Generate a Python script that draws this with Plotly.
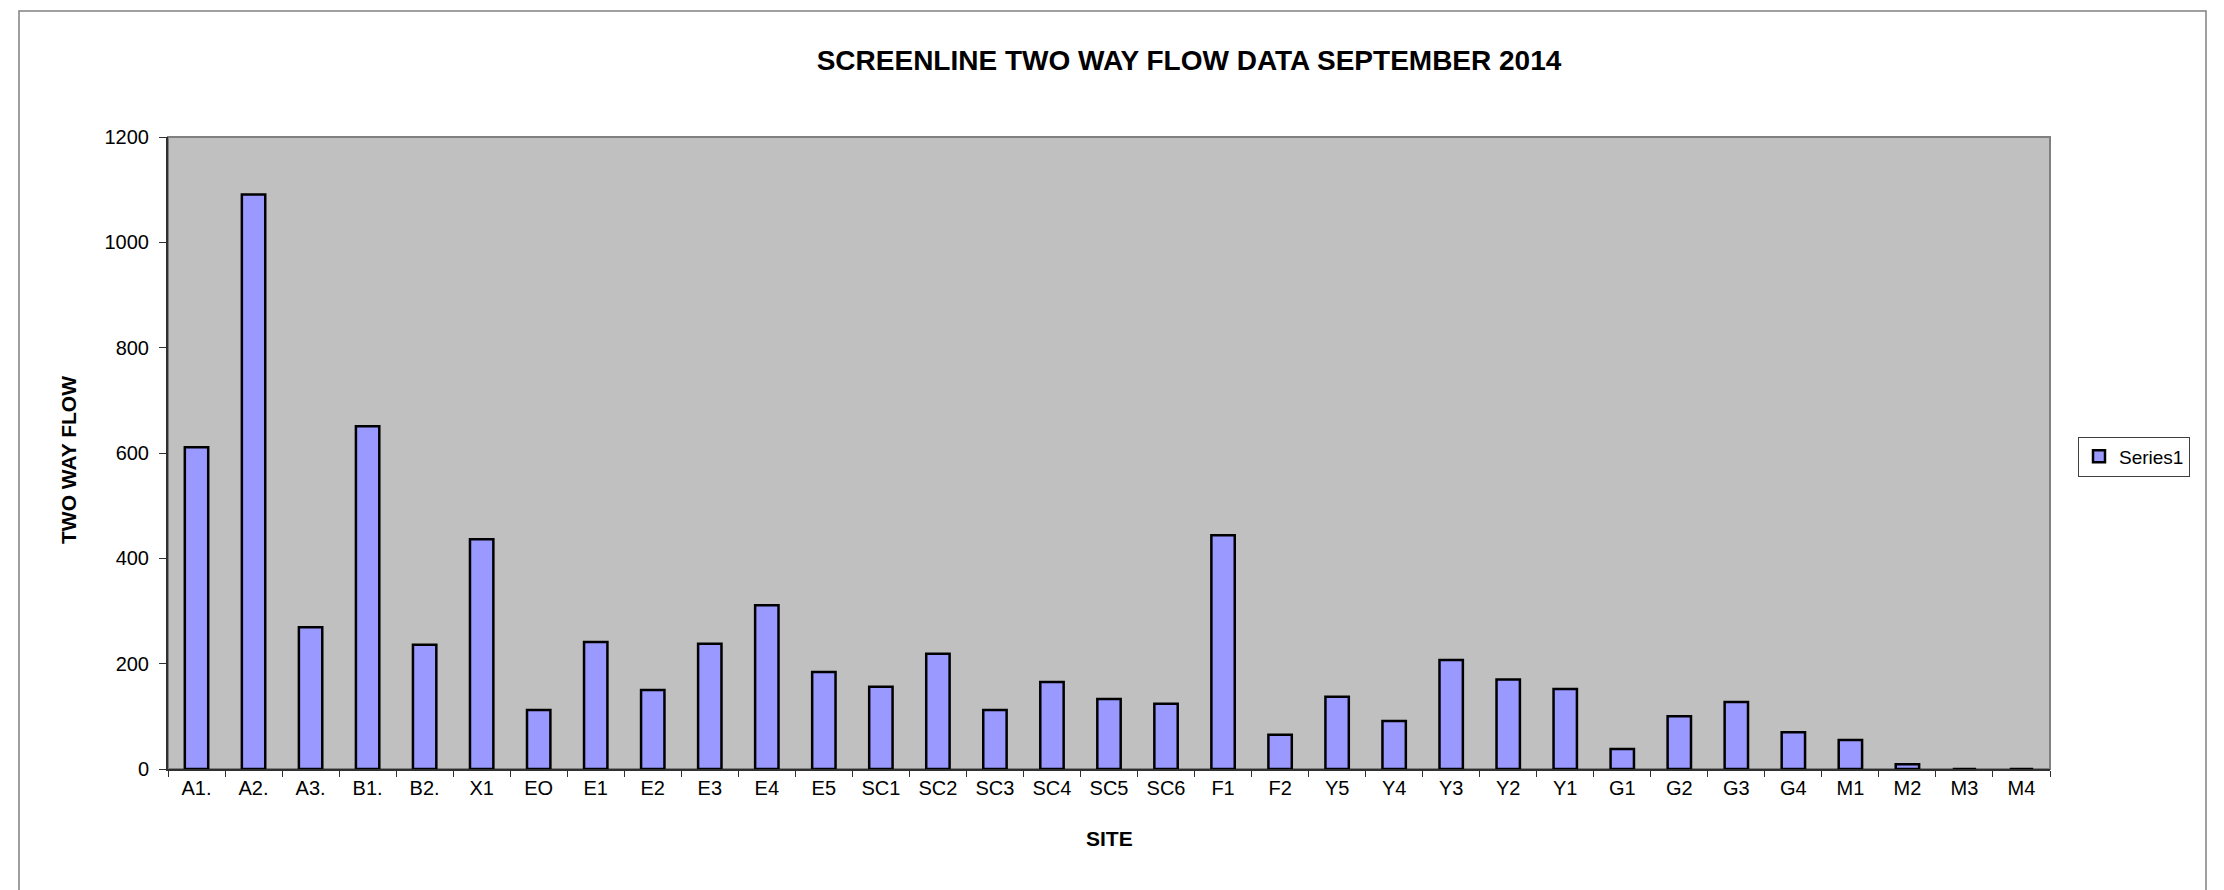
import plotly.graph_objects as go

sites = ["A1.", "A2.", "A3.", "B1.", "B2.", "X1", "EO", "E1", "E2", "E3", "E4", "E5",
         "SC1", "SC2", "SC3", "SC4", "SC5", "SC6", "F1", "F2", "Y5", "Y4", "Y3", "Y2",
         "Y1", "G1", "G2", "G3", "G4", "M1", "M2", "M3", "M4"]
flow = [611, 1091, 269, 651, 236, 436, 112, 241, 150, 238, 311, 184,
        156, 219, 112, 165, 133, 124, 444, 65, 137, 91, 207, 170,
        152, 38, 100, 127, 70, 55, 9, 0, 0]
y_ticks = [0, 200, 400, 600, 800, 1000, 1200]

FONT = "Liberation Sans, Arial, sans-serif"
W, H = 2224, 890
L, R, T, B = 168, 174, 137, 121
pw, ph = W - L - R, H - T - B

def px_x(x):
    return (x - L) / pw

def px_y(y):
    return (H - B - y) / ph

fig = go.Figure()
fig.add_trace(go.Bar(
    x=sites, y=flow, name="Series1",
    marker=dict(color="#9999FF", line=dict(color="black", width=2.5)),
    showlegend=True,
))

fig.update_layout(
    width=W, height=H,
    margin=dict(l=L, r=R, t=T, b=B),
    paper_bgcolor="white",
    plot_bgcolor="#C0C0C0",
    bargap=0.59,
    font=dict(family=FONT, color="black", size=19),
    title=dict(text="<b>SCREENLINE TWO WAY FLOW DATA SEPTEMBER 2014</b>",
               x=1189 / W, xanchor="center", y=1 - 60 / H, yanchor="middle",
               font=dict(family=FONT, size=28, color="black")),
    showlegend=True,
    legend=dict(x=px_x(2078), xanchor="left", y=px_y(456.5), yanchor="middle",
                bordercolor="#404040", borderwidth=1, bgcolor="white",
                font=dict(family=FONT, size=19, color="black"),
                itemwidth=30),
)

fig.update_xaxes(
    type="category", showgrid=False, showline=True, linecolor="#303030", linewidth=2,
    ticks="outside", tickson="boundaries", ticklen=6, tickcolor="#303030", tickwidth=1,
    tickfont=dict(family=FONT, size=20, color="black"),
    range=[-0.5, len(sites) - 0.5],
)
fig.update_yaxes(
    range=[0, 1200], tickvals=y_ticks, showgrid=False, zeroline=False,
    showline=True, linecolor="#303030", linewidth=2,
    ticks="outside", ticklen=7, tickcolor="#303030", tickwidth=1,
    tickfont=dict(family=FONT, size=20, color="black"),
    ticklabelstandoff=6,
)

# plot-area border (top/right gray)
fig.add_shape(type="rect", xref="paper", yref="paper", x0=0, x1=1, y0=0, y1=1,
              line=dict(color="#808080", width=2), layer="below")
# chart-area outer border
fig.add_shape(type="rect", xref="paper", yref="paper",
              x0=px_x(19), x1=px_x(2206), y0=px_y(893), y1=px_y(11),
              line=dict(color="#808080", width=1.5))

fig.add_annotation(text="<b>TWO WAY FLOW</b>", xref="paper", yref="paper",
                   x=px_x(68), y=px_y(460), textangle=-90, showarrow=False,
                   xanchor="center", yanchor="middle",
                   font=dict(family=FONT, size=21, color="black"))
fig.add_annotation(text="<b>SITE</b>", xref="paper", yref="paper",
                   x=px_x(1109), y=px_y(838), showarrow=False,
                   xanchor="center", yanchor="middle",
                   font=dict(family=FONT, size=21, color="black"))

fig.write_html("out.html", config={"displayModeBar": False},
               post_script="document.body.style.margin='0px';document.body.style.overflow='hidden';")
